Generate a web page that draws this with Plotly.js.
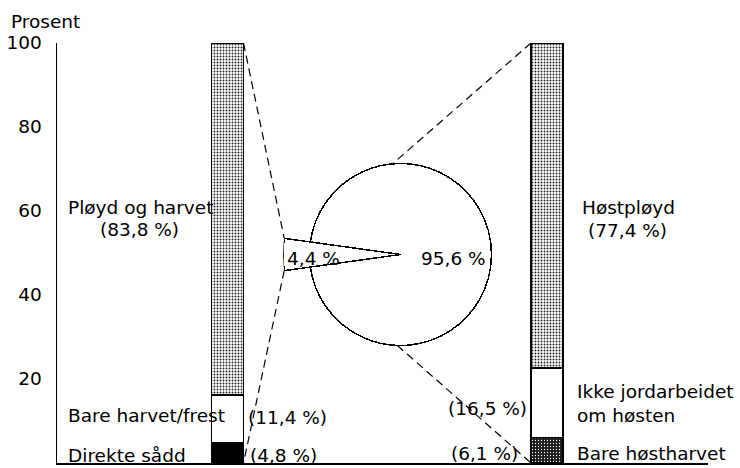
<!DOCTYPE html>
<html><head><meta charset="utf-8">
<script src="https://cdn.plot.ly/plotly-3.0.1.min.js"></script>
<style>html,body{margin:0;padding:0;background:#fff}#chart{width:740px;height:468px}</style>
</head><body><div id="chart"></div>
<script>
// ---------- data ----------
const categories   = ['Høstsådd kornareal', 'Vårsådd kornareal'];
const bottomLabels = ['Direkte sådd', 'Bare høstharvet'];
const bottomValues = [4.8, 6.1];
const middleLabels = ['Bare harvet/frest', 'Ikke jordarbeidet<br>om høsten'];
const middleValues = [11.4, 16.5];
const topLabels    = ['Pløyd og harvet', 'Høstpløyd'];
const topValues    = [83.8, 77.4];
const pieLabels    = ['Høstsådd', 'Vårsådd'];
const pieValues    = [4.4, 95.6];
const yTicks       = [0, 20, 40, 60, 80, 100];
const yAxisTitle   = 'Prosent';

// ---------- layout geometry (pixels) ----------
const W = 740, H = 468;
const PL = 57, PR = 708, PT = 43, PB = 463;
const bar0px = 227.5, bar1px = 547, barWpx = 32;
const xScale = bar1px - bar0px;             // px per category step
const yScale = (PB - PT) / 100;              // px per percent
const pieCx = 400.5, pieCy = 254.5, pieR = 91, wedgeScale = 1.29;
const FONT = 'DejaVu Sans';
const FS = 18.5;

const dx = px => (px - bar0px) / xScale;
const dy = py => (PB - py) / yScale;
const fmt = v => v.toFixed(1).replace('.', ',') + ' %';
const barW = barWpx / xScale;
const barHalf = barW / 2;
const outline = {color: '#000', width: 1.5};

// ---------- bars ----------
const lightStipple = {shape: '.', size: 3, solidity: 0.32, fgcolor: '#222', bgcolor: '#fff', fillmode: 'replace'};
const darkStipple  = {shape: '.', size: 3, solidity: 0.14, fgcolor: '#fff', bgcolor: '#1a1a1a', fillmode: 'replace'};
const traces = [
  {type: 'bar', x: [categories[0]], y: [bottomValues[0]], width: barW,
   marker: {color: '#000', line: outline}, hoverinfo: 'skip', showlegend: false},
  {type: 'bar', x: [categories[1]], y: [bottomValues[1]], width: barW,
   marker: {color: '#1a1a1a', pattern: darkStipple, line: outline}, hoverinfo: 'skip', showlegend: false},
  {type: 'bar', x: categories, y: middleValues, width: barW,
   marker: {color: '#fff', line: outline}, hoverinfo: 'skip', showlegend: false},
  {type: 'bar', x: categories, y: topValues, width: barW,
   marker: {color: '#fff', pattern: lightStipple, line: outline}, hoverinfo: 'skip', showlegend: false}
];

// ---------- pie (drawn as polar bars so the small slice sticks out) ----------
const deg = pieValues.map(v => v * 3.6);
traces.push({
  type: 'barpolar', subplot: 'polar',
  theta: [180, 0], width: deg, r: [wedgeScale, 1],
  marker: {color: '#fff', line: outline},
  hoverinfo: 'skip', showlegend: false
});

// polar domain from pie geometry
const Rout = pieR * wedgeScale;
const pw = PR - PL, ph = PB - PT;
const polarDomain = {
  x: [(pieCx - Rout - PL) / pw, (pieCx + Rout - PL) / pw],
  y: [(PB - (pieCy + Rout)) / ph, (PB - (pieCy - Rout)) / ph]
};

// ---------- connector lines ----------
const half = deg[0] / 2 * Math.PI / 180;
const wedgeTop = [pieCx - Rout * Math.cos(half), pieCy - Rout * Math.sin(half)];
const wedgeBot = [pieCx - Rout * Math.cos(half), pieCy + Rout * Math.sin(half)];
const circ = a => [pieCx + pieR * Math.cos(a * Math.PI / 180), pieCy - pieR * Math.sin(a * Math.PI / 180)];
const cTop = circ(95), cBot = circ(268);
const dash = {color: '#000', width: 1.2, dash: '8px,5px'};
const shapes = [
  {type: 'line', xref: 'x', yref: 'y', x0: 0 + barHalf, y0: 100, x1: dx(wedgeTop[0]), y1: dy(wedgeTop[1]), line: dash},
  {type: 'line', xref: 'x', yref: 'y', x0: dx(wedgeBot[0]), y0: dy(wedgeBot[1]), x1: 0 + barHalf, y1: 0, line: dash},
  {type: 'line', xref: 'x', yref: 'y', x0: 1 - barHalf, y0: 100, x1: dx(cTop[0]), y1: dy(cTop[1]), line: dash},
  {type: 'line', xref: 'x', yref: 'y', x0: dx(cBot[0]), y0: dy(cBot[1]), x1: 1 - barHalf, y1: 0, line: dash}
];

// ---------- text ----------
function ann(text, px, py, xanchor) {
  return {text: text, xref: 'x', yref: 'y', x: dx(px), y: dy(py), xanchor: xanchor || 'left', yanchor: 'middle',
          align: 'left', showarrow: false, font: {family: FONT, size: FS, color: '#000'}, borderpad: 0};
}
const annotations = [
  {text: yAxisTitle, xref: 'paper', yref: 'paper', x: (10 - PL) / pw, y: (PB - 22) / ph, xanchor: 'left', yanchor: 'middle',
   showarrow: false, font: {family: FONT, size: FS, color: '#000'}, borderpad: 0},
  ann(categories[0], 234, 26, 'center'),
  ann(categories[1], 544, 26, 'center'),
  ann(topLabels[0], 67, 207),
  ann('(' + fmt(topValues[0]) + ')', 99, 229),
  ann(middleLabels[0], 67, 415),
  ann('(' + fmt(middleValues[0]) + ')', 247, 417),
  ann(bottomLabels[0], 67, 455),
  ann('(' + fmt(bottomValues[0]) + ')', 249, 455),
  ann(topLabels[1], 581, 207),
  ann('(' + fmt(topValues[1]) + ')', 587, 230),
  ann(middleLabels[1], 576, 403),
  ann('(' + fmt(middleValues[1]) + ')', 528, 408, 'right'),
  ann('(' + fmt(bottomValues[1]) + ')', 519, 453, 'right'),
  ann(bottomLabels[1], 576, 453),
  ann(fmt(pieValues[0]), 313, 258, 'center'),
  ann(fmt(pieValues[1]), 453, 258, 'center')
];

const layout = {
  width: W, height: H,
  margin: {l: PL, r: W - PR, t: PT, b: H - PB, pad: 0},
  paper_bgcolor: '#fff', plot_bgcolor: 'rgba(0,0,0,0)',
  barmode: 'stack', showlegend: false,
  font: {family: FONT, size: FS, color: '#000'},
  xaxis: {type: 'category', range: [dx(PL), dx(PR)], showline: true, linecolor: '#000', linewidth: 1.5,
          showticklabels: false, ticks: '', showgrid: false, zeroline: false, fixedrange: true},
  yaxis: {range: [0, 100], tickvals: yTicks, showline: true, linecolor: '#000', linewidth: 1.5,
          ticks: '', showgrid: false, zeroline: false, ticklabelstandoff: 10,
          tickfont: {family: FONT, size: FS, color: '#000'}, fixedrange: true},
  polar: {domain: polarDomain, bgcolor: 'rgba(0,0,0,0)', bargap: 0,
          radialaxis: {visible: false, range: [0, wedgeScale]},
          angularaxis: {visible: false}},
  shapes: shapes,
  annotations: annotations
};

Plotly.newPlot('chart', traces, layout, {displayModeBar: false, staticPlot: true});
</script>
</body></html>
